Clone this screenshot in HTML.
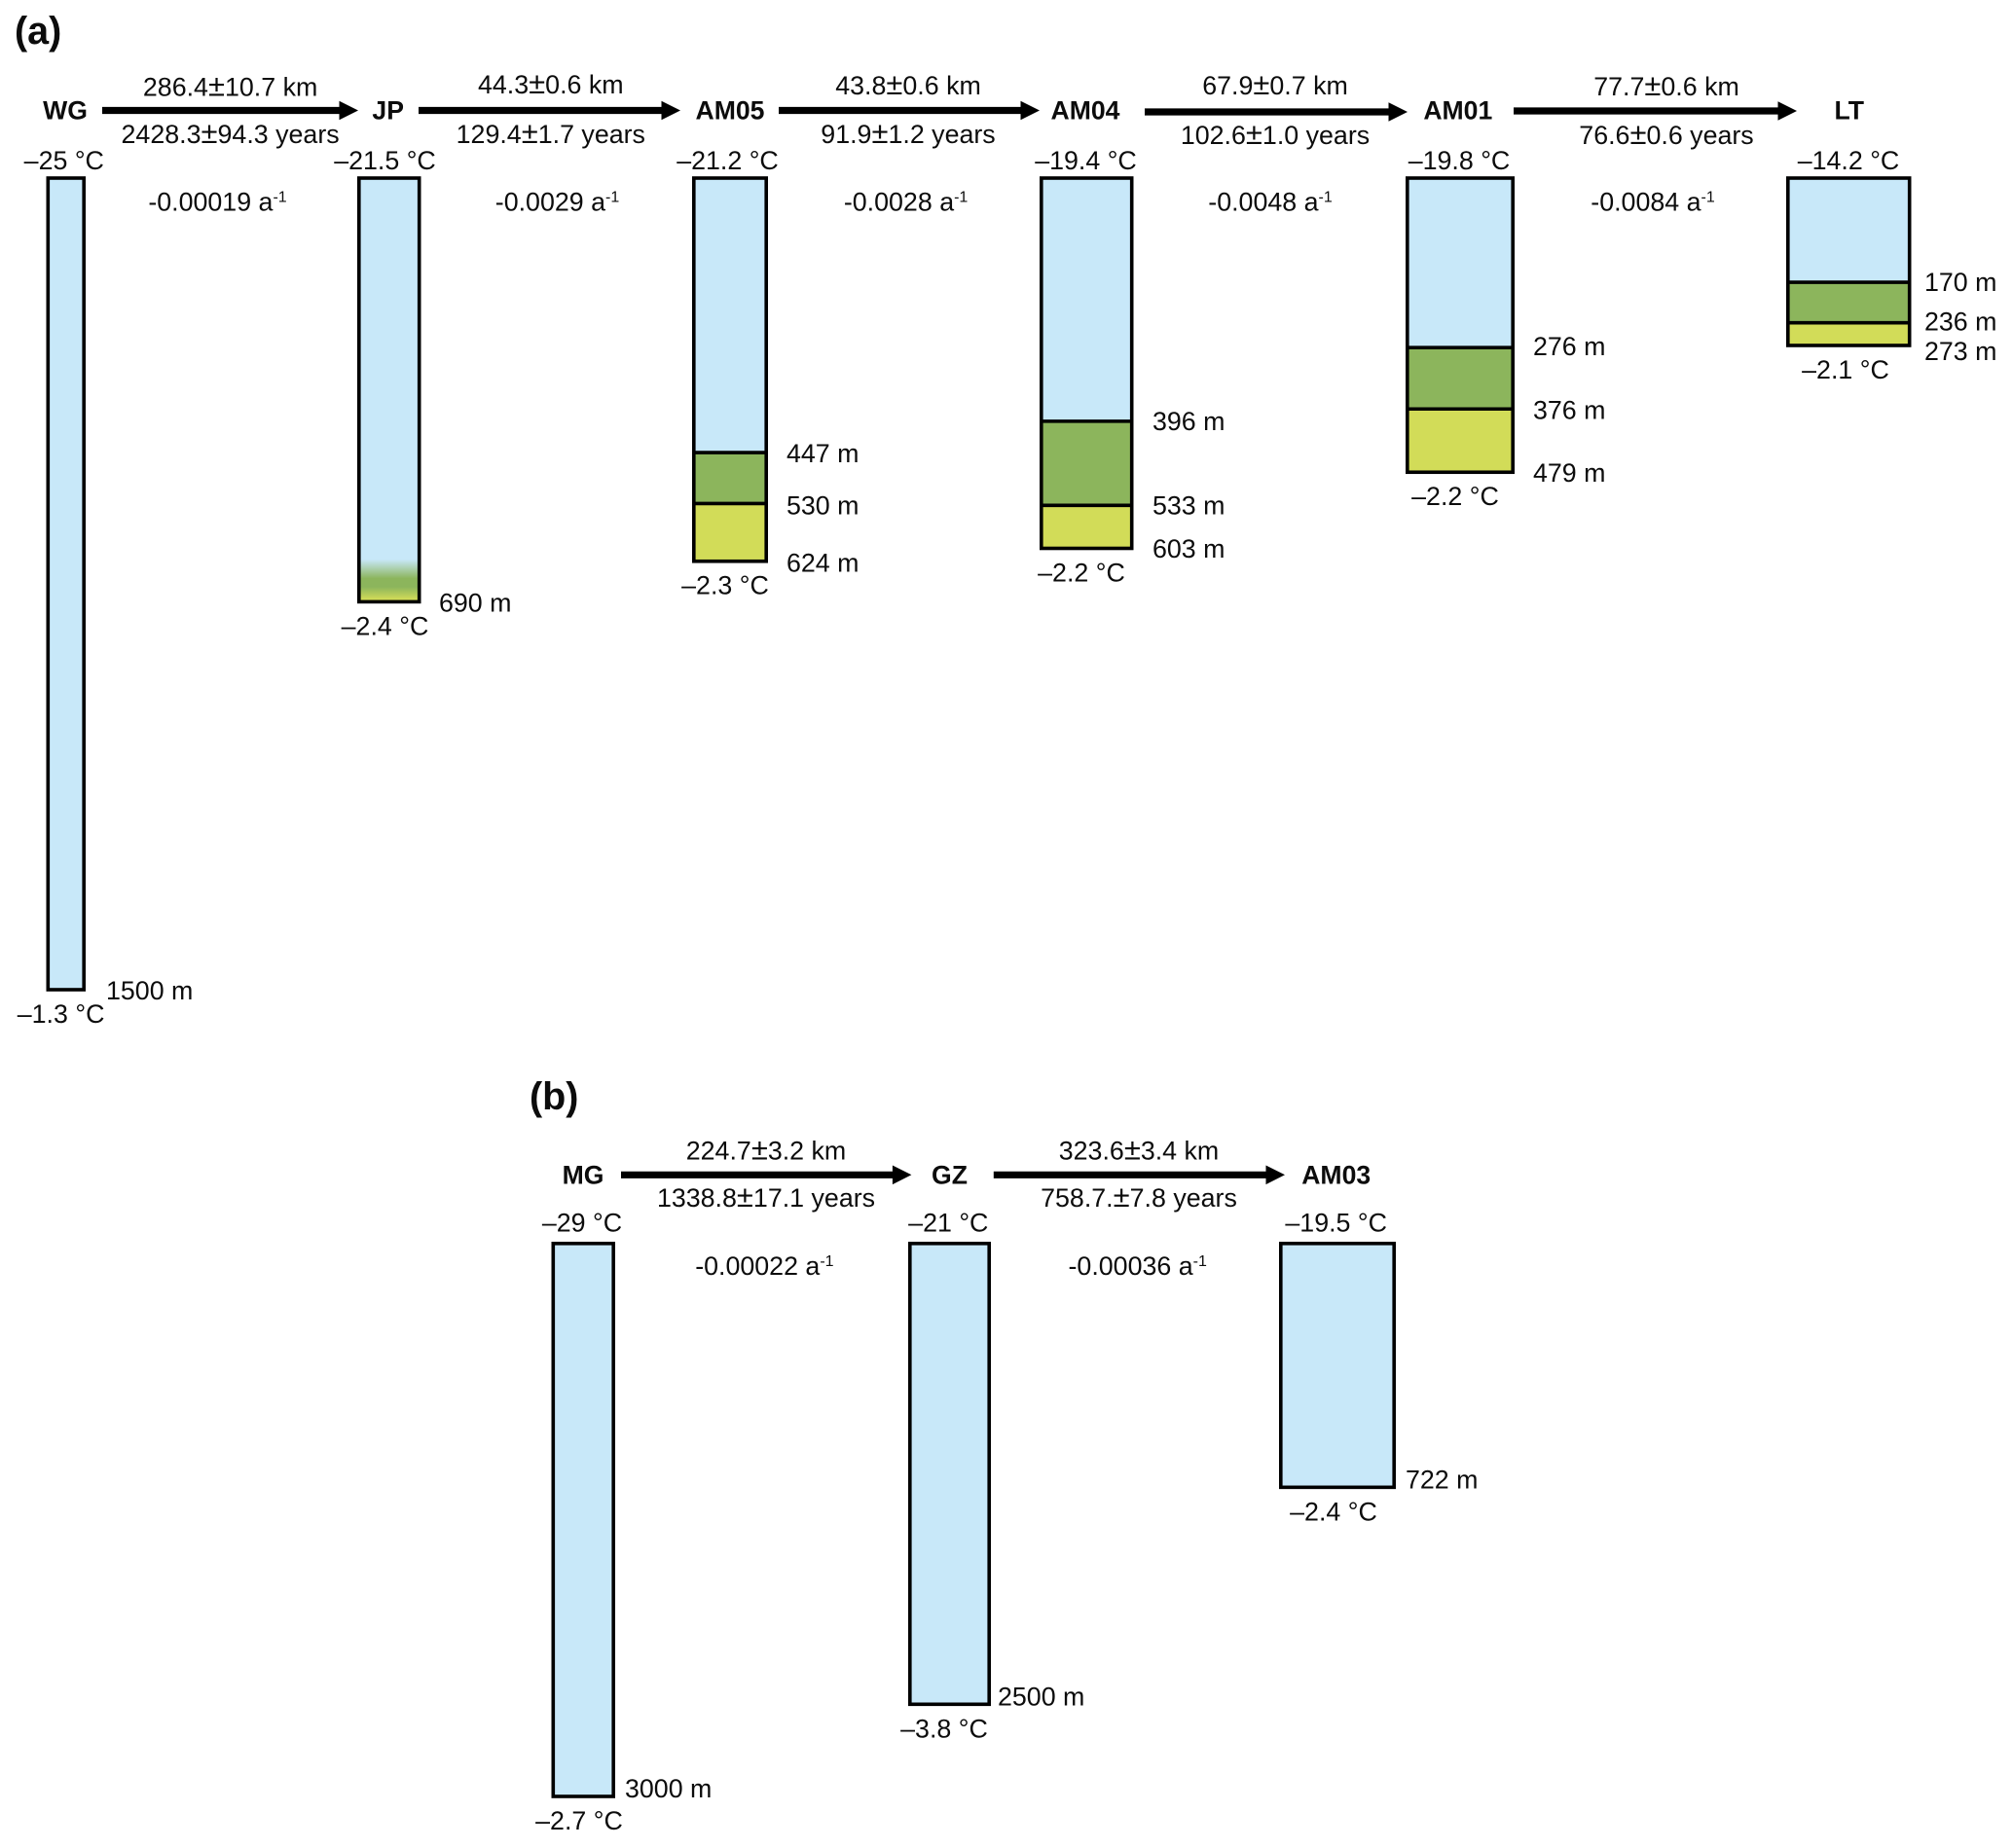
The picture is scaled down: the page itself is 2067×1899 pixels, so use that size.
<!DOCTYPE html>
<html lang="en">
<head>
<meta charset="utf-8">
<title>Ice core stations along flow lines</title>
<style>
html,body{margin:0;padding:0;background:#fff;width:2067px;height:1899px;overflow:hidden}
svg{display:block}
text{font-family:"Liberation Sans",Arial,sans-serif;font-size:26.8px;fill:#0c0c0c}
.name{font-weight:700;font-size:26.6px}
.panel{font-weight:700;font-size:39.5px}
</style>
</head>
<body>
<svg id="chart" xmlns="http://www.w3.org/2000/svg" width="2067" height="1899" viewBox="0 0 2067 1899">
<defs>
<linearGradient id="jp-gradient" x1="0" y1="0" x2="0" y2="1">
<stop offset="0" stop-color="#c8e8f9"/>
<stop offset="0.9" stop-color="#c8e8f9"/>
<stop offset="0.945" stop-color="#8cb55c"/>
<stop offset="0.965" stop-color="#8cb55c"/>
<stop offset="0.995" stop-color="#d2dc58"/>
<stop offset="1" stop-color="#d2dc58"/>
</linearGradient>
</defs>
<text class="panel" x="15" y="45">(a)</text>
<text class="panel" x="544" y="1140">(b)</text>
</svg>
<script>
// ---- Panel (a) data ----
const panelAStations = ['WG', 'JP', 'AM05', 'AM04', 'AM01', 'LT'];
const panelATotalDepth = [1500, 690, 624, 603, 479, 273];
const panelAUpperBoundary = [null, null, 447, 396, 276, 170];
const panelALowerBoundary = [null, null, 530, 533, 376, 236];
const panelASurfaceTemp = [-25, -21.5, -21.2, -19.4, -19.8, -14.2];
const panelABaseTemp = [-1.3, -2.4, -2.3, -2.2, -2.2, -2.1];
const panelADistance = ['286.4±10.7 km', '44.3±0.6 km', '43.8±0.6 km', '67.9±0.7 km', '77.7±0.6 km'];
const panelATravelTime = ['2428.3±94.3 years', '129.4±1.7 years', '91.9±1.2 years', '102.6±1.0 years', '76.6±0.6 years'];
const panelARate = [-0.00019, -0.0029, -0.0028, -0.0048, -0.0084];

// ---- Panel (b) data ----
const panelBStations = ['MG', 'GZ', 'AM03'];
const panelBTotalDepth = [3000, 2500, 722];
const panelBUpperBoundary = [null, null, null];
const panelBLowerBoundary = [null, null, null];
const panelBSurfaceTemp = [-29, -21, -19.5];
const panelBBaseTemp = [-2.7, -3.8, -2.4];
const panelBDistance = ['224.7±3.2 km', '323.6±3.4 km'];
const panelBTravelTime = ['1338.8±17.1 years', '758.7.±7.8 years'];
const panelBRate = [-0.00022, -0.00036];

// ---- Layout (not data) ----
const panelALayout = {
  top: 183, nameY: 122.7, surfaceY: 174, rateY: 216.5,
  columns: [
    {left: 47.5, right: 88, pxPerMetre: 0.556, nameX: 67, surfX: 65.8, baseX: 62.6, labelX: 109, labelDy: [10]},
    {left: 367, right: 432.5, pxPerMetre: 0.631, nameX: 398.7, surfX: 395.5, baseX: 395.5, labelX: 451, labelDy: [10], gradient: 'jp-gradient'},
    {left: 711, right: 789, pxPerMetre: 0.631, nameX: 750, surfX: 747.5, baseX: 745, labelX: 808, labelDy: [10, 11, 10.7]},
    {left: 1068, right: 1164.5, pxPerMetre: 0.631, nameX: 1115, surfX: 1115.5, baseX: 1111, labelX: 1184, labelDy: [9, 9, 9.5]},
    {left: 1444, right: 1556, pxPerMetre: 0.631, nameX: 1497.8, surfX: 1499, baseX: 1495, labelX: 1575, labelDy: [8, 10, 10]},
    {left: 1835, right: 1963.5, pxPerMetre: 0.63, nameX: 1899.8, surfX: 1899, baseX: 1896, labelX: 1977, labelDy: [9, 8, 15]}
  ],
  arrows: [
    {x1: 105, x2: 368, y: 113.5, textX: 236.6, distY: 98.5, timeY: 147, rateX: 223.5},
    {x1: 430, x2: 699, y: 113.5, textX: 565.8, distY: 96, timeY: 147, rateX: 572.5},
    {x1: 800, x2: 1068, y: 113.5, textX: 933, distY: 97, timeY: 147, rateX: 930.6},
    {x1: 1176, x2: 1446, y: 115, textX: 1310, distY: 97, timeY: 148, rateX: 1305},
    {x1: 1555, x2: 1846, y: 114, textX: 1712, distY: 98, timeY: 148, rateX: 1698}
  ]
};
const panelBLayout = {
  top: 1277.8, nameY: 1216.7, surfaceY: 1265.7, rateY: 1310,
  columns: [
    {left: 566.5, right: 632, pxPerMetre: 0.1894, nameX: 599, surfX: 598, baseX: 595, labelX: 642, labelDy: [1]},
    {left: 933, right: 1018, pxPerMetre: 0.1894, nameX: 975.5, surfX: 974.3, baseX: 970, labelX: 1025, labelDy: [1]},
    {left: 1314, right: 1434, pxPerMetre: 0.347, nameX: 1372.7, surfX: 1372.7, baseX: 1370, labelX: 1444, labelDy: [1]}
  ],
  arrows: [
    {x1: 638, x2: 936.4, y: 1207.3, textX: 787, distY: 1191.7, timeY: 1240, rateX: 785.4},
    {x1: 1020.8, x2: 1320, y: 1207.3, textX: 1170, distY: 1191.7, timeY: 1240, rateX: 1168.7}
  ]
};

const SVG_NS = 'http://www.w3.org/2000/svg';
const chart = document.getElementById('chart');
const BLUE = '#c8e8f9', GREEN = '#8cb55c', YELLOW = '#d2dc58';
const STROKE = 3.6;

function make(tag, attrs, parent) {
  const node = document.createElementNS(SVG_NS, tag);
  for (const key in attrs) node.setAttribute(key, attrs[key]);
  (parent || chart).appendChild(node);
  return node;
}
function label(str, x, y, anchor, cls, parent) {
  const node = make('text', {x: x, y: y, 'text-anchor': anchor}, parent);
  if (cls) node.setAttribute('class', cls);
  const parts = String(str).split('±');
  parts.forEach(function (part, k) {
    if (k > 0) {
      const pm = make('tspan', {'font-size': '31'}, node);
      pm.textContent = '±';
    }
    node.appendChild(document.createTextNode(part));
  });
  return node;
}
function formatTemp(v) {
  return (v < 0 ? '–' : '') + Math.abs(v) + ' °C';
}

function drawPanel(key, L, stations, totals, upper, lower, surfaceT, baseT, dist, time, rate) {
  const group = make('g', {});
  
  

  stations.forEach(function (name, i) {
    const col = L.columns[i];
    const depthY = function (d) { return L.top + d * col.pxPerMetre; };
    const x = col.left + STROKE / 2;
    const w = col.right - col.left - STROKE;
    const bottom = depthY(totals[i]);

    const stationName = label(name, col.nameX, L.nameY, 'middle', 'name', group);
    
    

    const surf = label(formatTemp(surfaceT[i]), col.surfX, L.surfaceY, 'middle', null, group);
    
    

    const bar = make('rect', {x: x, y: L.top, width: w, height: bottom - L.top, fill: col.gradient ? 'url(#' + col.gradient + ')' : BLUE}, group);
    
    

    const marks = [];
    if (upper[i] !== null) {
      const green = make('rect', {x: x, y: depthY(upper[i]), width: w, height: depthY(lower[i]) - depthY(upper[i]), fill: GREEN}, group);
      
      

      const yellow = make('rect', {x: x, y: depthY(lower[i]), width: w, height: bottom - depthY(lower[i]), fill: YELLOW}, group);
      
      

      [upper[i], lower[i]].forEach(function (d) {
        const line = make('line', {x1: x, x2: x + w, y1: depthY(d), y2: depthY(d), stroke: '#000', 'stroke-width': STROKE}, group);
        
        
      });
      marks.push(upper[i], lower[i]);
    }
    marks.push(totals[i]);

    const outline = make('rect', {x: x, y: L.top, width: w, height: bottom - L.top, fill: 'none', stroke: '#000', 'stroke-width': STROKE}, group);
    
    

    marks.forEach(function (d, j) {
      const depthLabel = label(d + ' m', col.labelX, depthY(d) + col.labelDy[j], 'start', null, group);
      
      
    });

    const base = label(formatTemp(baseT[i]), col.baseX, bottom + 34, 'middle', null, group);
    
    
  });

  L.arrows.forEach(function (a, i) {
    const shaft = 3.6, headLen = 19.5, headHalf = 9.8, neck = a.x2 - headLen;
    const pts = [[a.x1, a.y - shaft], [neck, a.y - shaft], [neck, a.y - headHalf], [a.x2, a.y], [neck, a.y + headHalf], [neck, a.y + shaft], [a.x1, a.y + shaft]];
    const arrow = make('polygon', {points: pts.map(function (p) { return p.join(','); }).join(' '), fill: '#000'}, group);
    
    

    const d = label(dist[i], a.textX, a.distY, 'middle', null, group);
    
    

    const t = label(time[i], a.textX, a.timeY, 'middle', null, group);
    
    

    const r = make('text', {x: a.rateX, y: L.rateY, 'text-anchor': 'middle'}, group);
    
    
    r.appendChild(document.createTextNode(String(rate[i]) + ' a'));
    const sup = make('tspan', {dy: -9, 'font-size': '16'}, r);
    sup.textContent = '-1';
  });
}

drawPanel('panel-a', panelALayout, panelAStations, panelATotalDepth, panelAUpperBoundary, panelALowerBoundary, panelASurfaceTemp, panelABaseTemp, panelADistance, panelATravelTime, panelARate);
drawPanel('panel-b', panelBLayout, panelBStations, panelBTotalDepth, panelBUpperBoundary, panelBLowerBoundary, panelBSurfaceTemp, panelBBaseTemp, panelBDistance, panelBTravelTime, panelBRate);
</script>
</body>
</html>
